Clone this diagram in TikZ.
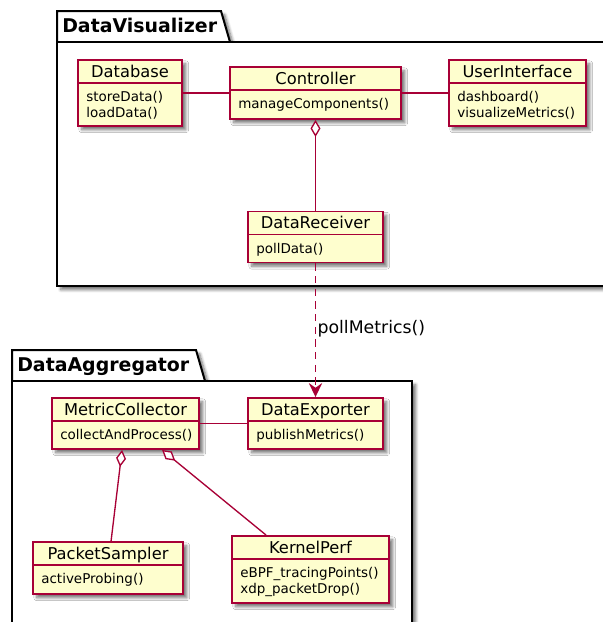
\documentclass[tikz,border=0pt]{standalone}
\usepackage{fontspec}
\setmainfont{DejaVu Sans}
\usetikzlibrary{arrows.meta,calc,shadows.blur}

\definecolor{umlfill}{HTML}{FEFECE}
\definecolor{umlborder}{HTML}{A80036}

\tikzset{
  x=0.75pt, y=-0.75pt,
  softshadow/.style={blur shadow={shadow xshift=2.8pt, shadow yshift=-2.8pt,
      shadow blur radius=2.2pt, shadow blur steps=6, shadow opacity=55}},
  classbox/.style={draw=umlborder, fill=umlfill, line width=1.4pt, inner sep=0pt, softshadow},
  classrule/.style={draw=umlborder, line width=1.2pt},
  classtitle/.style={inner sep=0pt, font=\fontsize{12.2pt}{14pt}\selectfont},
  classmethod/.style={inner sep=0pt, font=\fontsize{10.1pt}{12pt}\selectfont},
  pkgline/.style={draw=black, line width=1.5pt, fill=white, softshadow},
  pkgtitle/.style={inner sep=0pt, font=\bfseries\fontsize{14.2pt}{17pt}\selectfont},
  assoc/.style={draw=umlborder, line width=1pt},
  aggr/.style={draw=umlborder, line width=1pt,
      arrows={Diamond[fill=white, length=12.75pt, width=7.5pt]-}},
  dep/.style={draw=umlborder, line width=1pt, dash pattern=on 5.5pt off 4pt,
      arrows={-Stealth[length=10.5pt, width=10pt, inset=3.5pt]}},
  linklabel/.style={inner sep=0pt, font=\fontsize{13pt}{15pt}\selectfont},
}

% #1 node name, #2/#3 centre, #4 width, #5 height, #6 header height,
% #7 class name, #8 method lines (comma separated)
\newcommand\umlclass[8]{%
  \node[classbox, minimum width=#4*0.75pt, minimum height=#5*0.75pt] (#1) at (#2,#3) {};
  \draw[classrule] ($(#1.north west)+(0,#6)$) -- ($(#1.north east)+(0,#6)$);
  \node[classtitle, anchor=base] at ($(#1.north)+(0,18)$) {#7};
  \foreach \m [count=\i] in {#8}
    \node[classmethod, anchor=base west] at ($(#1.north west)+(9,{#6+18.5+(\i-1)*16})$) {\m};
}

\begin{document}
\begin{tikzpicture}
\useasboundingbox (0,0) rectangle (603,622);
\clip (0,0) rectangle (603,622);

% package DataVisualizer
\path[pkgline] (57,42) -- (57,11) -- (221,11) -- (230,42) -- cycle;
\path[pkgline] (57,42) rectangle (618,286);
\node[pkgtitle, anchor=base west] (vistitle) at (62,32) {DataVisualizer};

% package DataAggregator
\path[pkgline] (12,381) -- (12,350) -- (196,350) -- (205,381) -- cycle;
\path[pkgline] (12,381) rectangle (412,640);
\node[pkgtitle, anchor=base west] (aggtitle) at (17,371) {DataAggregator};

% classes of DataVisualizer
\umlclass{db}{130}{93}{104}{66}{24}{Database}{storeData(), loadData()}
\umlclass{ctrl}{315.5}{93}{171}{52}{24}{Controller}{manageComponents()}
\umlclass{ui}{517.5}{93}{137}{66}{24}{UserInterface}{dashboard(), visualizeMetrics()}
\umlclass{recv}{315.5}{237}{135}{51}{24}{DataReceiver}{pollData()}

% classes of DataAggregator
\umlclass{coll}{125.5}{423.5}{147}{51}{24}{MetricCollector}{collectAndProcess()}
\umlclass{exp}{315.5}{423.5}{135}{51}{24}{DataExporter}{publishMetrics()}
\umlclass{sampler}{108}{568}{150}{52}{24}{PacketSampler}{activeProbing()}
\umlclass{kperf}{310.5}{569.5}{157}{67}{24}{KernelPerf}{eBPF\_tracingPoints(), xdp\_packetDrop()}

% relations
\draw[assoc] (db) -- (ctrl);
\draw[assoc] (ctrl) -- (ui);
\draw[aggr] (ctrl.south) -- (recv.north);
\draw[dep] (recv) -- node[linklabel, pos=0.49, anchor=west, xshift=1pt] (polllabel) {pollMetrics()} (exp);
\draw[assoc] (coll) -- (exp);
\draw[aggr] ($(coll.south west)+(71,0)$) -- ($(sampler.north west)+(79,0)$);
\draw[aggr] ($(coll.south west)+(111,0)$) -- ($(kperf.north west)+(35,0)$);
\end{tikzpicture}
\end{document}
